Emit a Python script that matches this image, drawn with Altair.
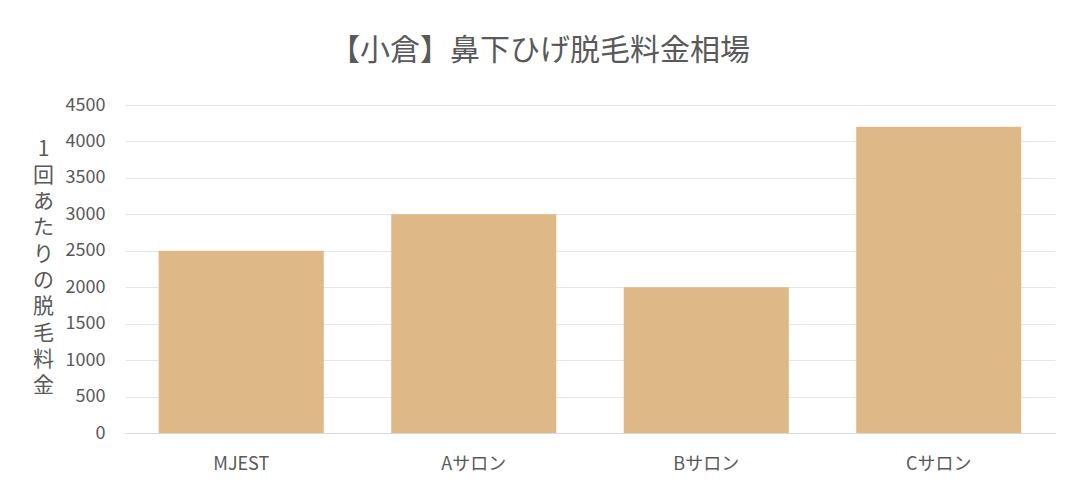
import altair as alt
import pandas as pd

categories = ["MJEST", "Aサロン", "Bサロン", "Cサロン"]
values = [2500, 3000, 2000, 4200]
y_ticks = list(range(0, 4501, 500))
y_title = ["1", "回", "あ", "た", "り", "の", "脱", "毛", "料", "金"]
title_text = "【小倉】鼻下ひげ脱毛料金相場"

df = pd.DataFrame({"cat": categories, "val": values})

FONT = "Noto Sans CJK JP"
GRAY = "#595959"

chart = alt.Chart(df).mark_bar(color="#DEB887").encode(
    x=alt.X("cat:N", sort=categories,
            scale=alt.Scale(paddingInner=0.29, paddingOuter=0.145),
            axis=alt.Axis(title=None, labelAngle=0, labelFont=FONT, labelFontSize=18,
                          labelColor=GRAY, ticks=False, domain=True, domainColor="#d9d9d9",
                          labelPadding=22)),
    y=alt.Y("val:Q", scale=alt.Scale(domain=[0, 4500], nice=False),
            axis=alt.Axis(values=y_ticks, title=y_title, titleAngle=0, titleFont=FONT,
                          titleFontSize=21, titleColor=GRAY, titleFontWeight="normal",
                          titleLineHeight=26.3, titleBaseline="top", titleAlign="center",
                          titleX=-82, titleY=33, format="d",
                          labelFont=FONT, labelFontSize=18, labelColor=GRAY,
                          ticks=False, domain=False, labelPadding=20,
                          gridColor="#e6e6e6"))
).properties(
    width=930, height=328,
    title=alt.TitleParams(title_text, font=FONT, fontSize=30, color=GRAY,
                          fontWeight="normal", anchor="middle", dx=-50, offset=30),
    padding={"left": 117, "top": 97, "right": 10, "bottom": 55},
    autosize=alt.AutoSizeParams(type="none")
).configure_view(stroke=None)

chart.save("out.html", embed_options={"renderer": "svg", "actions": False})
